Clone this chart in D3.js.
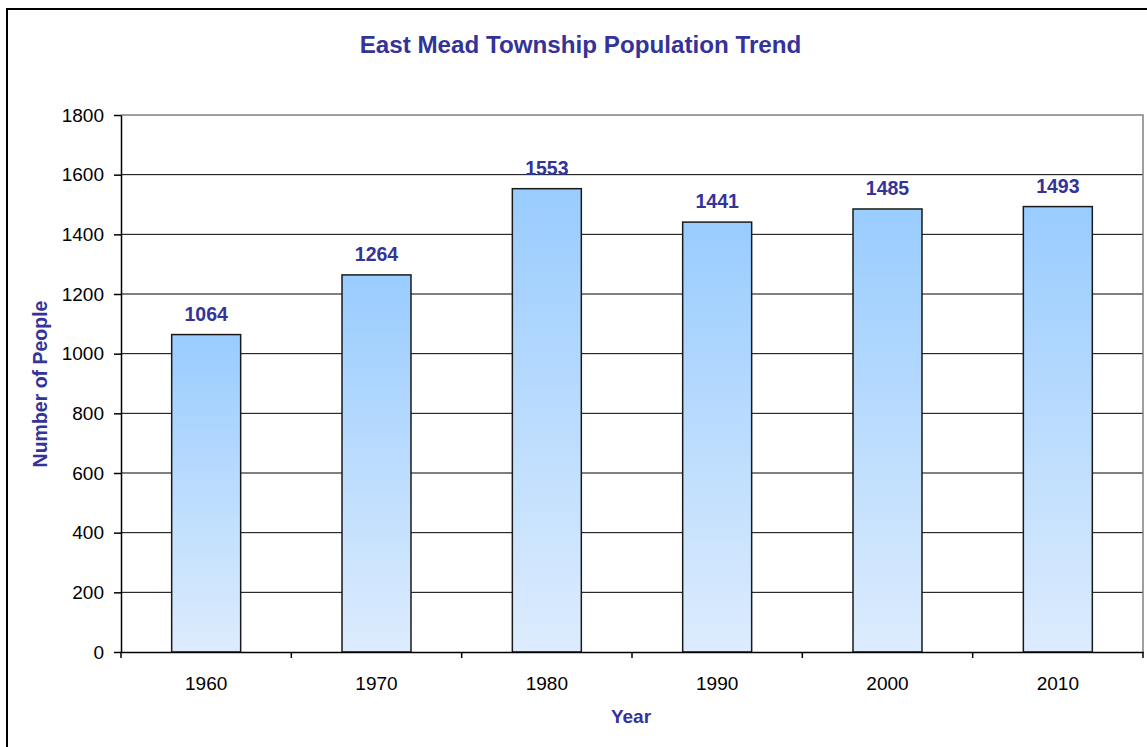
<!DOCTYPE html>
<html>
<head>
<meta charset="utf-8">
<script src="https://cdn.jsdelivr.net/npm/d3@7"></script>
<style>
  body { margin: 0; background: #fff; overflow: hidden; }
  text { font-family: Arial, "Liberation Sans", sans-serif; }
</style>
</head>
<body>
<svg id="chart" width="1147" height="747"></svg>
<script>
// --- Data
const years = ["1960", "1970", "1980", "1990", "2000", "2010"]
const population = [1064, 1264, 1553, 1441, 1485, 1493]
const yTicks = [0, 200, 400, 600, 800, 1000, 1200, 1400, 1600, 1800]

const svg = d3.select("#chart")
const plot = { left: 121, right: 1143, top: 115, bottom: 652 }
const labelColor = "#333399"
const fontStack = "Arial, 'Liberation Sans', sans-serif"

// outer frame (right and bottom edges fall outside the picture)
svg.append("rect")
    .attr("x", 7).attr("y", 9)
    .attr("width", 1200).attr("height", 800)
    .attr("fill", "white")
    .attr("stroke", "black")
    .attr("stroke-width", 2)

const x = d3.scaleBand().domain(years).range([plot.left, plot.right])
const y = d3.scaleLinear().domain([0, 1800]).range([plot.bottom, plot.top])

const grad = svg.append("defs").append("linearGradient")
    .attr("id", "barFill")
    .attr("x1", 0).attr("y1", 0).attr("x2", 0).attr("y2", 1)
grad.append("stop").attr("offset", "0%").attr("stop-color", "#99ccff")
grad.append("stop").attr("offset", "100%").attr("stop-color", "#ddecfd")

// grid lines
svg.append("g")
    .selectAll("line")
    .data(yTicks.filter(d => d > 0 && d < 1800))
    .join("line")
    .attr("x1", plot.left).attr("x2", plot.right)
    .attr("y1", d => y(d)).attr("y2", d => y(d))
    .attr("stroke", "black")
    .attr("stroke-width", 1)

// plot border (top and right in grey)
svg.append("path")
    .attr("d", `M${plot.left},${plot.top}H${plot.right}V${plot.bottom}`)
    .attr("fill", "none")
    .attr("stroke", "#808080")
    .attr("stroke-width", 1.5)

// bars
const barW = x.bandwidth() * 0.405
svg.append("g")
    .selectAll("rect")
    .data(years)
    .join("rect")
    .attr("x", d => x(d) + (x.bandwidth() - barW) / 2)
    .attr("width", barW)
    .attr("y", (d, i) => y(population[i]))
    .attr("height", (d, i) => y(0) - y(population[i]))
    .attr("fill", "url(#barFill)")
    .attr("stroke", "#1a1a1a")
    .attr("stroke-width", 1.5)

// value labels
svg.append("g")
    .selectAll("text")
    .data(years)
    .join("text")
    .attr("x", d => x(d) + x.bandwidth() / 2)
    .attr("y", (d, i) => y(population[i]) - 14)
    .attr("text-anchor", "middle")
    .attr("font-size", 19.5)
    .attr("font-weight", "bold")
    .attr("fill", labelColor)
    .text((d, i) => population[i])

// y axis
const yAxis = svg.append("g")
    .attr("transform", `translate(${plot.left},0)`)
    .call(d3.axisLeft(y).tickValues(yTicks).tickFormat(d3.format("d"))
        .tickSize(7).tickPadding(10).tickSizeOuter(0))
yAxis.select(".domain").attr("stroke", "black").attr("stroke-width", 1.5)
yAxis.selectAll(".tick line").attr("stroke", "black").attr("stroke-width", 1.5)
yAxis.selectAll("text").attr("font-size", 19).attr("fill", "black")
    .style("font-family", fontStack)

// x axis
const xAxis = svg.append("g")
    .attr("transform", `translate(0,${plot.bottom})`)
    .call(d3.axisBottom(x).tickSize(0).tickPadding(25))
xAxis.select(".domain").attr("stroke", "black").attr("stroke-width", 1.5)
xAxis.selectAll("text").attr("font-size", 19).attr("fill", "black")
    .style("font-family", fontStack)

// x tick marks at category boundaries
const bounds = years.map(d => x(d)).concat([plot.right])
svg.append("g")
    .selectAll("line")
    .data(bounds)
    .join("line")
    .attr("x1", d => d).attr("x2", d => d)
    .attr("y1", plot.bottom).attr("y2", plot.bottom + 6)
    .attr("stroke", "black")
    .attr("stroke-width", 1.5)

// title and axis labels
svg.append("text")
    .attr("x", 580.5).attr("y", 53)
    .attr("text-anchor", "middle")
    .attr("font-size", 24.2)
    .attr("font-weight", "bold")
    .attr("fill", labelColor)
    .text("East Mead Township Population Trend")

svg.append("text")
    .attr("x", 631).attr("y", 723)
    .attr("text-anchor", "middle")
    .attr("font-size", 19)
    .attr("font-weight", "bold")
    .attr("fill", labelColor)
    .text("Year")

svg.append("text")
    .attr("transform", "translate(47,384) rotate(-90)")
    .attr("text-anchor", "middle")
    .attr("font-size", 19.5)
    .attr("font-weight", "bold")
    .attr("fill", labelColor)
    .text("Number of People")
</script>
</body>
</html>
